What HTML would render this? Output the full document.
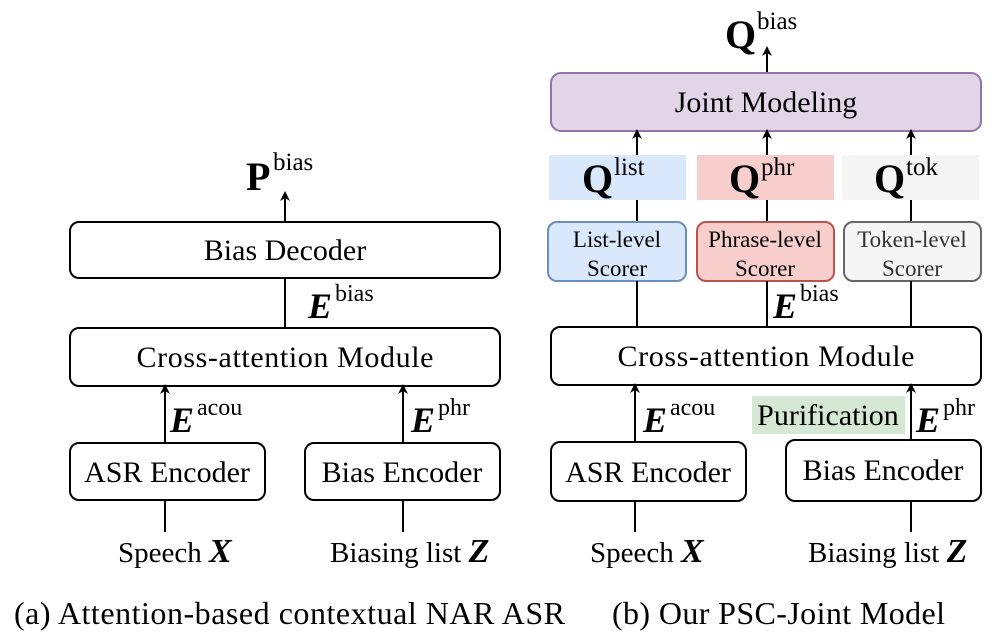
<!DOCTYPE html>
<html><head><meta charset="utf-8"><style>
html,body{margin:0;padding:0;background:#fff;}
svg{display:block;font-family:"Liberation Serif",serif;}
</style></head><body>
<svg width="996" height="641" viewBox="0 0 996 641" xmlns="http://www.w3.org/2000/svg">
<defs><marker id="a" markerWidth="10" markerHeight="10" refX="5" refY="5" orient="auto" markerUnits="userSpaceOnUse"><path d="M0,0 L10,5 L0,10 L3,5 z" fill="#000"/></marker></defs>
<g stroke="#000" stroke-width="2" fill="none">
<line x1="285" y1="222" x2="285" y2="196" marker-end="url(#a)"/>
<rect x="70" y="222" width="430" height="56" rx="9" fill="#fff"/>
<line x1="285" y1="278" x2="285" y2="328"/>
<rect x="70" y="328" width="430" height="58" rx="9" fill="#fff"/>
<line x1="165" y1="443" x2="165" y2="389" marker-end="url(#a)"/>
<line x1="403" y1="443" x2="403" y2="389" marker-end="url(#a)"/>
<rect x="70" y="443" width="195" height="57" rx="9" fill="#fff"/>
<rect x="305" y="443" width="195" height="57" rx="9" fill="#fff"/>
<line x1="165" y1="500" x2="165" y2="532"/>
<line x1="403" y1="500" x2="403" y2="532"/>
<line x1="767" y1="73" x2="767" y2="51" marker-end="url(#a)"/>
<rect x="551" y="73" width="430" height="58" rx="10" fill="#e1d5e7" stroke="#9673a6"/>
<line x1="637" y1="155" x2="637" y2="134" marker-end="url(#a)"/>
<line x1="767" y1="155" x2="767" y2="134" marker-end="url(#a)"/>
<line x1="911" y1="155" x2="911" y2="134" marker-end="url(#a)"/>
<line x1="637" y1="200" x2="637" y2="222"/>
<line x1="767" y1="200" x2="767" y2="222"/>
<line x1="911" y1="200" x2="911" y2="222"/>
<rect x="548" y="222" width="138" height="59" rx="9" fill="#dae8fc" stroke="#6c8ebf"/>
<rect x="697" y="222" width="137" height="59" rx="9" fill="#f8cecc" stroke="#b85450"/>
<rect x="844" y="222" width="137" height="59" rx="9" fill="#f5f5f5" stroke="#666"/>
<line x1="637" y1="281" x2="637" y2="327"/>
<line x1="767" y1="281" x2="767" y2="327"/>
<line x1="911" y1="281" x2="911" y2="327"/>
<rect x="551" y="327" width="430" height="58" rx="9" fill="#fff"/>
<line x1="635" y1="442" x2="635" y2="388" marker-end="url(#a)"/>
<line x1="911" y1="440" x2="911" y2="388" marker-end="url(#a)"/>
<rect x="551" y="442" width="195" height="59" rx="9" fill="#fff"/>
<rect x="786" y="440" width="195" height="61" rx="9" fill="#fff"/>
<line x1="635" y1="501" x2="635" y2="532"/>
<line x1="911" y1="501" x2="911" y2="532"/>
</g>
<rect x="549" y="155" width="137" height="45" fill="#dae8fc"/>
<rect x="697" y="155" width="137" height="45" fill="#f8cecc"/>
<rect x="842" y="155" width="137" height="45" fill="#f5f5f5"/>
<rect x="752" y="396" width="153" height="38" fill="#d5e8d4"/>
<g font-size="30" fill="#000" text-anchor="middle">
<text x="285" y="260">Bias Decoder</text>
<text x="285" y="367" textLength="297">Cross-attention Module</text>
<text x="167" y="482">ASR Encoder</text>
<text x="402" y="482">Bias Encoder</text>
<text x="766" y="112">Joint Modeling</text>
<text x="766" y="366" textLength="297">Cross-attention Module</text>
<text x="648" y="482">ASR Encoder</text>
<text x="883" y="480">Bias Encoder</text>
<text x="828" y="425">Purification</text>
</g>
<g font-size="23" text-anchor="middle">
<text x="617" y="247">List-level</text><text x="617" y="276">Scorer</text>
<text x="765" y="247">Phrase-level</text><text x="765" y="276">Scorer</text>
<text x="912" y="247" fill="#333">Token-level</text><text x="912" y="276" fill="#333">Scorer</text>
</g>
<g font-size="29">
<text x="118" y="562">Speech <tspan font-weight="bold" font-style="italic" font-size="34">X</tspan></text>
<text x="330" y="562">Biasing list <tspan font-weight="bold" font-style="italic" font-size="34">Z</tspan></text>
<text x="590" y="562">Speech <tspan font-weight="bold" font-style="italic" font-size="34">X</tspan></text>
<text x="808" y="562">Biasing list <tspan font-weight="bold" font-style="italic" font-size="34">Z</tspan></text>
<text x="14" y="624" font-size="32" textLength="551">(a) Attention-based contextual NAR ASR</text>
<text x="612" y="624" font-size="32" textLength="333">(b) Our PSC-Joint Model</text>
</g>
<g font-size="40" font-weight="bold">
<text x="246" y="190">P</text>
<text x="725" y="48">Q</text>
<text x="582" y="192">Q</text>
<text x="729" y="192">Q</text>
<text x="874" y="192">Q</text>
</g>
<g font-size="25">
<text x="273" y="170">bias</text>
<text x="757" y="29">bias</text>
<text x="614" y="175">list</text>
<text x="761" y="175">phr</text>
<text x="906" y="175">tok</text>
</g>
<g font-size="36" font-weight="bold" font-style="italic">
<text x="308" y="318">E</text><text x="170" y="432">E</text><text x="411" y="432">E</text>
<text x="773" y="318">E</text><text x="643" y="432">E</text><text x="916" y="432">E</text>
</g>
<g font-size="24">
<text x="335" y="301">bias</text><text x="197" y="415">acou</text><text x="438" y="415">phr</text>
<text x="800" y="301">bias</text><text x="670" y="415">acou</text><text x="943" y="415">phr</text>
</g>
</svg>
</body></html>
